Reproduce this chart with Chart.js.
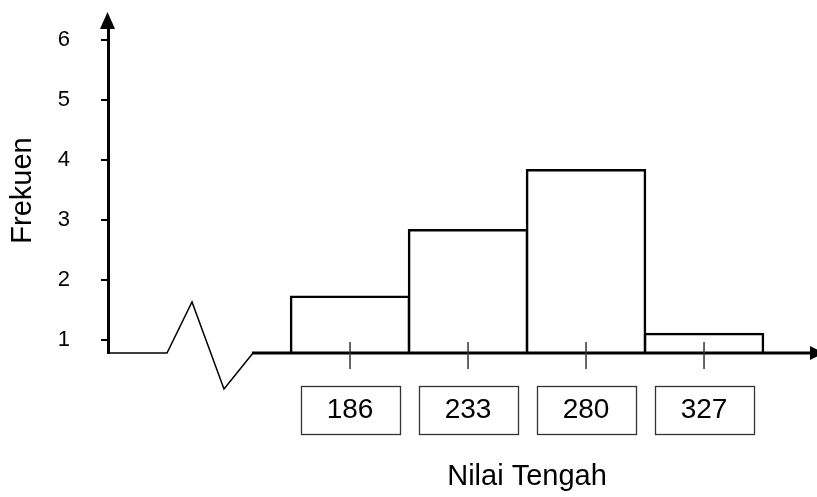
<!DOCTYPE html>
<html>
<head>
<meta charset="utf-8">
<script src="https://cdn.jsdelivr.net/npm/chart.js@4.4.1/dist/chart.umd.min.js"></script>
<style>
  html, body { margin: 0; padding: 0; background: #fff; }
  #wrap { width: 817px; height: 497px; }
</style>
</head>
<body>
<div id="wrap"><canvas id="grafik" width="817" height="497"></canvas></div>
<script>
// Data histogram
const nilaiTengah = [186, 233, 280, 327];
const frekuensi = [1.72, 2.83, 3.83, 1.1];
const tickY = [1, 2, 3, 4, 5, 6];
const judulX = 'Nilai Tengah';
const judulY = 'Frekuen';

const FONT = '"Liberation Sans", Arial, sans-serif';

// Plugin untuk panah sumbu, patahan sumbu x, garis tick dan kotak label
const sumbuPlugin = {
  id: 'sumbu',
  afterDatasetsDraw(chart) {
    const ctx = chart.ctx;
    const area = chart.chartArea;
    const sx = chart.scales.x;
    const yb = area.bottom;
    ctx.save();
    ctx.strokeStyle = '#000';
    ctx.fillStyle = '#000';

    // bagian patah (zigzag) sumbu x
    ctx.lineWidth = 1.5;
    ctx.beginPath();
    ctx.moveTo(area.left, yb);
    ctx.lineTo(area.left + 59, yb);
    ctx.lineTo(area.left + 84, yb - 51);
    ctx.lineTo(area.left + 116, yb + 36);
    ctx.lineTo(area.left + 145, yb);
    ctx.stroke();

    // sumbu x utama
    ctx.lineWidth = 3;
    ctx.beginPath();
    ctx.moveTo(area.left + 144, yb);
    ctx.lineTo(area.right - 4, yb);
    ctx.stroke();

    // panah kanan
    ctx.beginPath();
    ctx.moveTo(area.right - 5, yb - 7);
    ctx.lineTo(area.right + 9, yb);
    ctx.lineTo(area.right - 5, yb + 7);
    ctx.closePath();
    ctx.fill();

    // panah atas sumbu y
    ctx.beginPath();
    ctx.moveTo(area.left - 8, area.top + 1);
    ctx.lineTo(area.left - 0.5, area.top - 16);
    ctx.lineTo(area.left + 7, area.top + 1);
    ctx.closePath();
    ctx.fill();

    // garis tick x (memotong sumbu)
    ctx.strokeStyle = '#333';
    ctx.lineWidth = 1.5;
    sx.ticks.forEach((t, i) => {
      const px = sx.getPixelForTick(i);
      ctx.beginPath();
      ctx.moveTo(px, yb - 11);
      ctx.lineTo(px, yb + 16);
      ctx.stroke();
    });

    // kotak di sekitar label nilai tengah
    ctx.font = '28px ' + FONT;
    ctx.lineWidth = 1.3;
    sx.ticks.forEach((t, i) => {
      const px = sx.getPixelForTick(i);
      const w = ctx.measureText(String(t.value)).width + 52;
      ctx.strokeRect(Math.round(px - w / 2) + 0.5, 386.5, Math.round(w), 48);
    });

    // judul sumbu x
    const cx = (sx.getPixelForValue(nilaiTengah[1]) + sx.getPixelForValue(nilaiTengah[2])) / 2;
    ctx.font = '29px ' + FONT;
    ctx.textAlign = 'center';
    ctx.textBaseline = 'middle';
    ctx.fillText(judulX, cx, 477);
    ctx.restore();
  }
};

const ctx = document.getElementById('grafik').getContext('2d');
new Chart(ctx, {
  type: 'bar',
  data: {
    datasets: [{
      label: judulY,
      data: nilaiTengah.map((v, i) => ({ x: v, y: frekuensi[i] })),
      backgroundColor: '#ffffff',
      borderColor: '#000000',
      borderWidth: 2.5,
      borderSkipped: 'start',
      inflateAmount: 1.25,
      barPercentage: 1,
      categoryPercentage: 1
    }]
  },
  options: {
    responsive: false,
    animation: false,
    layout: { padding: { left: 0, right: 2, top: 28, bottom: 0 } },
    plugins: {
      legend: { display: false },
      tooltip: { enabled: false }
    },
    scales: {
      x: {
        type: 'linear',
        offset: false,
        min: 89.6,
        max: 371.2,
        afterBuildTicks: (s) => { s.ticks = nilaiTengah.map(v => ({ value: v })); },
        afterFit: (s) => { s.height = 144; s.paddingLeft = 0; s.paddingRight = 0; },
        grid: { display: false, drawTicks: false },
        border: { display: false },
        ticks: {
          autoSkip: false,
          maxRotation: 0,
          padding: 40,
          color: '#000',
          font: { family: FONT, size: 28 },
          callback: (v) => String(v)
        }
      },
      y: {
        min: 0.7833,
        max: 6.2,
        afterBuildTicks: (s) => { s.ticks = tickY.map(v => ({ value: v })); },
        afterFit: (s) => { s.width = 108; s.paddingTop = 0; s.paddingBottom = 0; },
        grid: {
          drawOnChartArea: false,
          drawTicks: true,
          tickLength: 7,
          color: '#000',
          lineWidth: 2
        },
        border: { display: true, color: '#000', width: 3 },
        ticks: {
          padding: 31,
          color: '#000',
          font: { family: FONT, size: 22 }
        },
        title: {
          display: true,
          text: judulY,
          color: '#000',
          padding: { top: 6, bottom: 0 },
          font: { family: FONT, size: 29 }
        }
      }
    }
  },
  plugins: [sumbuPlugin]
});
</script>
</body>
</html>
